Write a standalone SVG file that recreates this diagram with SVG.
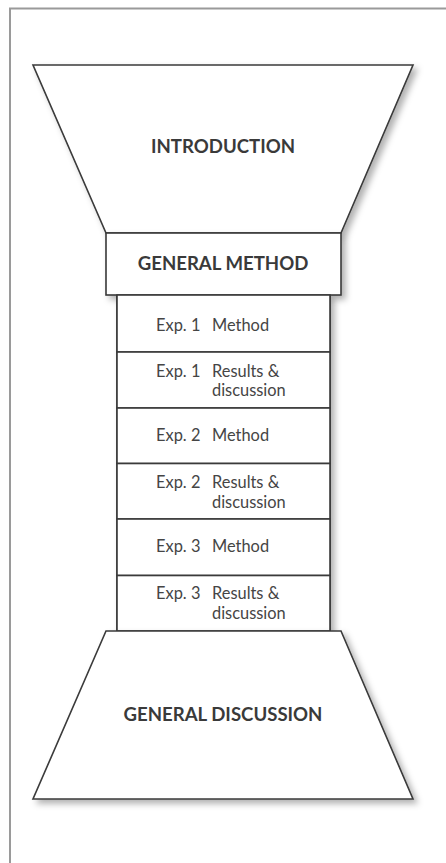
<svg xmlns="http://www.w3.org/2000/svg" width="446" height="863" viewBox="0 0 446 863">
<defs>
<filter id="sh" x="-10%" y="-10%" width="130%" height="130%">
<feDropShadow dx="4" dy="4" stdDeviation="3" flood-color="#000" flood-opacity="0.3"/>
</filter>
<style>
.s{fill:#fff;stroke:#3a3a3a;stroke-width:1.6;stroke-linejoin:miter}
.h{font-family:Lato,"Liberation Sans",sans-serif;font-weight:700;font-size:18.6px;fill:#3a3a3a;text-anchor:middle}
.e{font-family:Lato,"Liberation Sans",sans-serif;font-weight:400;font-size:16.4px;fill:#454545}
</style>
</defs>
<rect x="10" y="8.5" width="600" height="1000" fill="#fff" stroke="#9a9a9a" stroke-width="2"/>
<g id="introduction">
<polygon class="s" filter="url(#sh)" points="33,65 413,65 341,233 106,233"/>
<text class="h" x="223" y="153">INTRODUCTION</text>
</g>
<g id="exp-stack">
<rect class="s" filter="url(#sh)" x="117" y="295" width="213" height="336"/>
</g>
<g id="general-method">
<rect class="s" filter="url(#sh)" x="106" y="233" width="235" height="62"/>
<text class="h" x="223" y="270">GENERAL METHOD</text>
</g>
<g id="exp1-method">
<rect class="s" x="117" y="295" width="213" height="57"/>
<text class="e" x="156" y="331">Exp. 1</text><text class="e" x="212" y="331">Method</text>
</g>
<g id="exp1-results">
<rect class="s" x="117" y="352" width="213" height="56"/>
<text class="e" x="156" y="377">Exp. 1</text><text class="e" x="212" y="377">Results &amp;</text>
<text class="e" x="212" y="396">discussion</text>
</g>
<g id="exp2-method">
<rect class="s" x="117" y="408" width="213" height="55.5"/>
<text class="e" x="156" y="441">Exp. 2</text><text class="e" x="212" y="441">Method</text>
</g>
<g id="exp2-results">
<rect class="s" x="117" y="463.5" width="213" height="55.5"/>
<text class="e" x="156" y="488">Exp. 2</text><text class="e" x="212" y="488">Results &amp;</text>
<text class="e" x="212" y="508">discussion</text>
</g>
<g id="exp3-method">
<rect class="s" x="117" y="519" width="213" height="56.5"/>
<text class="e" x="156" y="552">Exp. 3</text><text class="e" x="212" y="552">Method</text>
</g>
<g id="exp3-results">
<rect class="s" x="117" y="575.5" width="213" height="55.5"/>
<text class="e" x="156" y="599">Exp. 3</text><text class="e" x="212" y="599">Results &amp;</text>
<text class="e" x="212" y="619">discussion</text>
</g>
<g id="general-discussion">
<polygon class="s" filter="url(#sh)" points="106,631 341,631 413,799 33,799"/>
<text class="h" x="223" y="721">GENERAL DISCUSSION</text>
</g>
<g id="connectors"></g>
</svg>
